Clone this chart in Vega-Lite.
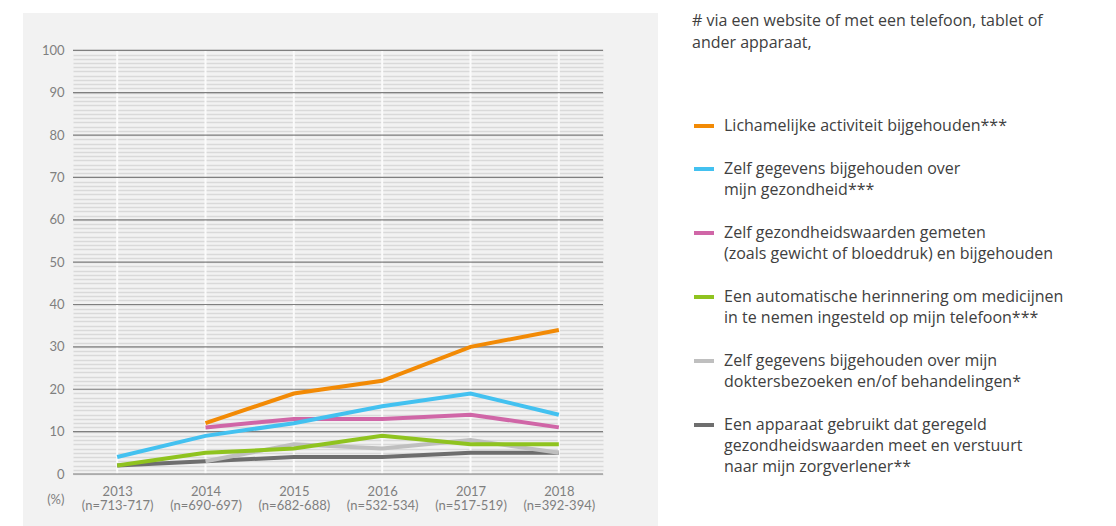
{
  "$schema": "https://vega.github.io/schema/vega-lite/v6.json",
  "width": 635,
  "height": 513,
  "autosize": {"type": "none"},
  "padding": {"left": 23, "top": 13, "right": 458, "bottom": 0},
  "background": "#ffffff",
  "config": {
    "font": "Lato",
    "view": {"fill": "#f2f2f2", "stroke": null},
    "style": {"guide-label": {"lineHeight": 21}}
  },
  "layer": [
    {
      "data": {"values": [{"year": 2013}, {"year": 2014}, {"year": 2015}, {"year": 2016}, {"year": 2017}, {"year": 2018}]},
      "mark": {"type": "rule", "stroke": "#fbfbfb", "strokeWidth": 2},
      "encoding": {
        "x": {
          "field": "year", "type": "quantitative",
          "scale": {"domain": [2012.5, 2018.5], "range": [50, 580], "nice": false, "zero": false},
          "axis": {
            "title": null, "values": [2013, 2014, 2015, 2016, 2017, 2018], "offset": -52,
            "domain": false, "ticks": false, "tickSize": 0, "grid": false, "labelPadding": 11,
            "labelFontSize": 13, "labelColor": "#7f7f7f", "labelLineHeight": 14.5, "labelFlush": false,
            "labelExpr": "datum.value == 2013 ? ['2013','(n=713-717)'] : datum.value == 2014 ? ['2014','(n=690-697)'] : datum.value == 2015 ? ['2015','(n=682-688)'] : datum.value == 2016 ? ['2016','(n=532-534)'] : datum.value == 2017 ? ['2017','(n=517-519)'] : ['2018','(n=392-394)']"
          }
        },
        "y": {
          "datum": 0, "type": "quantitative",
          "scale": {"domain": [0, 100], "range": [461, 37.3], "nice": false, "zero": true},
          "axis": {
            "title": "(%)", "titleAngle": 0, "titleAlign": "right", "titleBaseline": "middle",
            "titleX": -9, "titleY": 486, "titleFontSize": 13, "titleColor": "#7f7f7f", "titleFontWeight": "normal",
            "offset": -50, "domain": false, "ticks": false, "tickSize": 0, "tickCount": 100,
            "labelExpr": "datum.value % 10 === 0 ? datum.label : ''", "labelOverlap": false, "labelFlush": false,
            "labelPadding": 9, "labelFontSize": 13, "labelColor": "#7f7f7f",
            "grid": true, "gridColor": "#d9d9d9", "gridWidth": 1.3
          }
        },
        "y2": {"datum": 100}
      }
    },
    {
      "data": {"values": [{"level": 0}, {"level": 10}, {"level": 20}, {"level": 30}, {"level": 40}, {"level": 50}, {"level": 60}, {"level": 70}, {"level": 80}, {"level": 90}, {"level": 100}]},
      "mark": {"type": "rule", "stroke": "#7f7f7f", "strokeWidth": 1.2},
      "encoding": {
        "y": {"field": "level", "type": "quantitative", "scale": {"domain": [0, 100], "range": [461, 37.3], "nice": false, "zero": true}},
        "x": {"datum": 2012.5, "type": "quantitative", "scale": {"domain": [2012.5, 2018.5], "range": [50, 580], "nice": false, "zero": false}},
        "x2": {"datum": 2018.5}
      }
    },
    {
      "data": {"values": [
        {"year": 2013, "serie": "Een apparaat gebruikt dat geregeld|gezondheidswaarden meet en verstuurt|naar mijn zorgverlener**", "value": 2},
        {"year": 2014, "serie": "Een apparaat gebruikt dat geregeld|gezondheidswaarden meet en verstuurt|naar mijn zorgverlener**", "value": 3},
        {"year": 2015, "serie": "Een apparaat gebruikt dat geregeld|gezondheidswaarden meet en verstuurt|naar mijn zorgverlener**", "value": 4},
        {"year": 2016, "serie": "Een apparaat gebruikt dat geregeld|gezondheidswaarden meet en verstuurt|naar mijn zorgverlener**", "value": 4},
        {"year": 2017, "serie": "Een apparaat gebruikt dat geregeld|gezondheidswaarden meet en verstuurt|naar mijn zorgverlener**", "value": 5},
        {"year": 2018, "serie": "Een apparaat gebruikt dat geregeld|gezondheidswaarden meet en verstuurt|naar mijn zorgverlener**", "value": 5},
        {"year": 2014, "serie": "Zelf gegevens bijgehouden over mijn|doktersbezoeken en/of behandelingen*", "value": 3},
        {"year": 2015, "serie": "Zelf gegevens bijgehouden over mijn|doktersbezoeken en/of behandelingen*", "value": 7},
        {"year": 2016, "serie": "Zelf gegevens bijgehouden over mijn|doktersbezoeken en/of behandelingen*", "value": 6},
        {"year": 2017, "serie": "Zelf gegevens bijgehouden over mijn|doktersbezoeken en/of behandelingen*", "value": 8},
        {"year": 2018, "serie": "Zelf gegevens bijgehouden over mijn|doktersbezoeken en/of behandelingen*", "value": 5},
        {"year": 2013, "serie": "Een automatische herinnering om medicijnen|in te nemen ingesteld op mijn telefoon***", "value": 2},
        {"year": 2014, "serie": "Een automatische herinnering om medicijnen|in te nemen ingesteld op mijn telefoon***", "value": 5},
        {"year": 2015, "serie": "Een automatische herinnering om medicijnen|in te nemen ingesteld op mijn telefoon***", "value": 6},
        {"year": 2016, "serie": "Een automatische herinnering om medicijnen|in te nemen ingesteld op mijn telefoon***", "value": 9},
        {"year": 2017, "serie": "Een automatische herinnering om medicijnen|in te nemen ingesteld op mijn telefoon***", "value": 7},
        {"year": 2018, "serie": "Een automatische herinnering om medicijnen|in te nemen ingesteld op mijn telefoon***", "value": 7},
        {"year": 2014, "serie": "Zelf gezondheidswaarden gemeten|(zoals gewicht of bloeddruk) en bijgehouden", "value": 11},
        {"year": 2015, "serie": "Zelf gezondheidswaarden gemeten|(zoals gewicht of bloeddruk) en bijgehouden", "value": 13},
        {"year": 2016, "serie": "Zelf gezondheidswaarden gemeten|(zoals gewicht of bloeddruk) en bijgehouden", "value": 13},
        {"year": 2017, "serie": "Zelf gezondheidswaarden gemeten|(zoals gewicht of bloeddruk) en bijgehouden", "value": 14},
        {"year": 2018, "serie": "Zelf gezondheidswaarden gemeten|(zoals gewicht of bloeddruk) en bijgehouden", "value": 11},
        {"year": 2013, "serie": "Zelf gegevens bijgehouden over|mijn gezondheid***", "value": 4},
        {"year": 2014, "serie": "Zelf gegevens bijgehouden over|mijn gezondheid***", "value": 9},
        {"year": 2015, "serie": "Zelf gegevens bijgehouden over|mijn gezondheid***", "value": 12},
        {"year": 2016, "serie": "Zelf gegevens bijgehouden over|mijn gezondheid***", "value": 16},
        {"year": 2017, "serie": "Zelf gegevens bijgehouden over|mijn gezondheid***", "value": 19},
        {"year": 2018, "serie": "Zelf gegevens bijgehouden over|mijn gezondheid***", "value": 14},
        {"year": 2014, "serie": "Lichamelijke activiteit bijgehouden***", "value": 12},
        {"year": 2015, "serie": "Lichamelijke activiteit bijgehouden***", "value": 19},
        {"year": 2016, "serie": "Lichamelijke activiteit bijgehouden***", "value": 22},
        {"year": 2017, "serie": "Lichamelijke activiteit bijgehouden***", "value": 30},
        {"year": 2018, "serie": "Lichamelijke activiteit bijgehouden***", "value": 34}
      ]},
      "mark": {"type": "line", "strokeWidth": 4},
      "encoding": {
        "x": {"field": "year", "type": "quantitative", "scale": {"domain": [2012.5, 2018.5], "range": [50, 580], "nice": false, "zero": false}},
        "y": {"field": "value", "type": "quantitative", "scale": {"domain": [0, 100], "range": [461, 37.3], "nice": false, "zero": true}},
        "color": {
          "field": "serie", "type": "nominal",
          "scale": {
            "domain": [
              "Lichamelijke activiteit bijgehouden***",
              "Zelf gegevens bijgehouden over|mijn gezondheid***",
              "Zelf gezondheidswaarden gemeten|(zoals gewicht of bloeddruk) en bijgehouden",
              "Een automatische herinnering om medicijnen|in te nemen ingesteld op mijn telefoon***",
              "Zelf gegevens bijgehouden over mijn|doktersbezoeken en/of behandelingen*",
              "Een apparaat gebruikt dat geregeld|gezondheidswaarden meet en verstuurt|naar mijn zorgverlener**"
            ],
            "range": ["#f28a05", "#43c1f0", "#d066a7", "#8fc31f", "#bfbfbf", "#6e6e6e"]
          },
          "legend": {
            "title": ["# via een website of met een telefoon, tablet of", "ander apparaat,"],
            "orient": "none", "legendX": 669, "legendY": 0, "padding": 0, "direction": "vertical",
            "titleFont": "Open Sans", "titleFontSize": 16, "titleFontWeight": "normal", "titleColor": "#404040", "titleLimit": 600,
            "titleLineHeight": 22, "titlePadding": 55, "titleAnchor": "start", "titleBaseline": "top",
            "labelExpr": "split(datum.label, '|')", "labelFont": "Open Sans", "labelFontSize": 16, "labelColor": "#404040",
            "labelLimit": 600, "labelBaseline": "top", "labelOffset": 8,
            "symbolType": "M-1,0.8H1", "symbolSize": 400, "symbolStrokeWidth": 4, "rowPadding": 15
          }
        }
      }
    }
  ]
}
